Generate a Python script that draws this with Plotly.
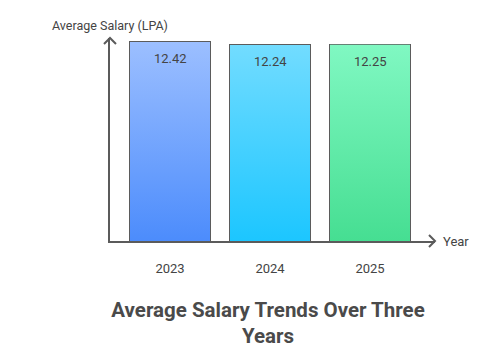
import plotly.graph_objects as go

years = ["2023", "2024", "2025"]
salaries = [12.42, 12.24, 12.25]
top_colors = ["#9cbfff", "#72dcff", "#80f8c2"]
bottom_colors = ["#4c8cfc", "#1cc6ff", "#46de92"]

x_title = "Year"
y_title = "Average Salary (LPA)"
chart_title = "Average Salary Trends Over Three<br>Years"

LINE = "#5b5b5b"
TEXT = "#444444"
FONT = "Roboto"
bar_w = 0.8
xs = list(range(len(years)))

fig = go.Figure()
for i, (v, tc, bc) in enumerate(zip(salaries, top_colors, bottom_colors)):
    x0, x1 = xs[i] - bar_w / 2, xs[i] + bar_w / 2
    fig.add_trace(go.Scatter(
        x=[x0, x1, x1, x0, x0], y=[0, 0, v, v, 0],
        mode="lines", line=dict(width=0), fill="toself",
        fillgradient=dict(type="vertical", colorscale=[[0, bc], [1, tc]]),
        hoverinfo="skip", showlegend=False,
    ))

fig.add_trace(go.Bar(
    x=xs, y=salaries, width=bar_w,
    marker=dict(color="rgba(0,0,0,0)", line=dict(color=LINE, width=2)),
    showlegend=False,
))

for i, v in enumerate(salaries):
    fig.add_annotation(x=xs[i], y=v, text=f"{v:.2f}", showarrow=False,
                       yanchor="top", yshift=-7,
                       font=dict(family=FONT, size=13, color=TEXT))

x_lo, x_hi = -0.6, 2.65
y_hi = 12.67
# axis arrow chevrons (paper refs so they are not clipped)
fig.add_shape(type="path", xref="paper", yref="paper", xsizemode="pixel", ysizemode="pixel",
              xanchor=1, yanchor=0, path="M-6,6 L0,0 L-6,-6",
              line=dict(color=LINE, width=2))
fig.add_shape(type="path", xref="paper", yref="paper", xsizemode="pixel", ysizemode="pixel",
              xanchor=0, yanchor=1, path="M-6,-6 L0,0 L6,-6",
              line=dict(color=LINE, width=2))
fig.add_annotation(x=x_hi, y=0, text=x_title, showarrow=False,
                   xanchor="left", xshift=6,
                   font=dict(family=FONT, size=13, color=TEXT))
fig.add_annotation(x=x_lo, y=y_hi, text=y_title, showarrow=False,
                   yanchor="bottom", yshift=3,
                   font=dict(family=FONT, size=12.5, color=TEXT))

fig.update_layout(
    width=500, height=350,
    margin=dict(l=110, r=65, t=38, b=109),
    paper_bgcolor="white", plot_bgcolor="white",
    bargap=0,
    title=dict(text=chart_title, x=0.536, xanchor="center", y=0.095,
               yanchor="top", yref="container",
               font=dict(family=FONT, size=20.5, color="#4a4a4a", weight="bold")),
    xaxis=dict(range=[x_lo, x_hi], tickvals=xs, ticktext=years,
               showline=True, linecolor=LINE, linewidth=2,
               showgrid=False, zeroline=False,
               ticks="outside", ticklen=14, tickcolor="rgba(0,0,0,0)",
               tickfont=dict(family=FONT, size=13, color=TEXT)),
    yaxis=dict(range=[0, y_hi], showline=True, linecolor=LINE, linewidth=2,
               showgrid=False, zeroline=False, showticklabels=False, ticks=""),
)

fig.write_html("out.html")
